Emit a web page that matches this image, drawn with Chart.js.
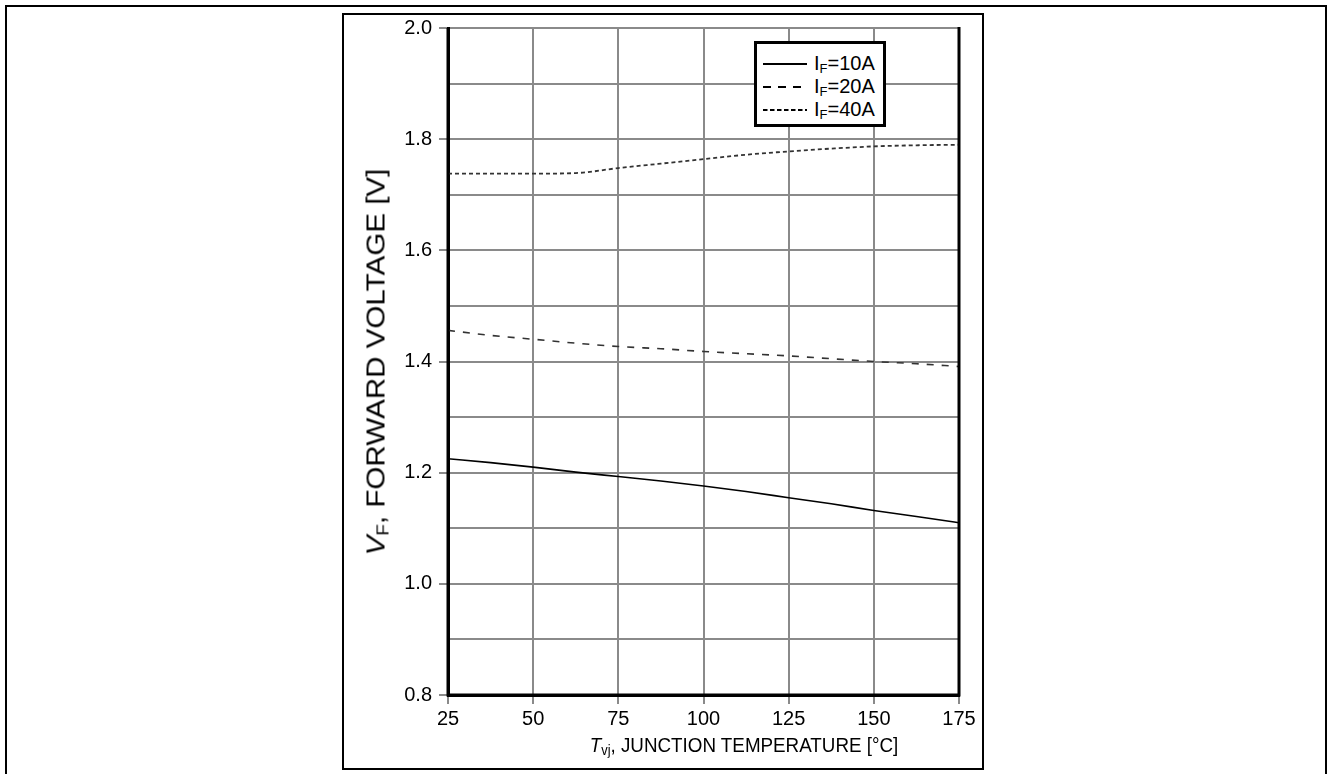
<!DOCTYPE html>
<html>
<head>
<meta charset="utf-8">
<script src="https://cdn.jsdelivr.net/npm/chart.js@4.4.1/dist/chart.umd.min.js"></script>
<style>
    html, body { margin: 0; padding: 0; background: #fff; }
    body { width: 1332px; height: 774px; position: relative; overflow: hidden; font-family: 'Liberation Sans', Arial, sans-serif; }
    .page-frame { position: absolute; left: 5px; top: 5px; width: 1322px; height: 800px; border: 2px solid #000; box-sizing: border-box; }
    .figure-frame { position: absolute; left: 342px; top: 13px; width: 642px; height: 757px; border: 2px solid #000; box-sizing: border-box; }
    #vfChart { position: absolute; left: 0; top: 0; }
    .axis-title { position: absolute; color: #000; white-space: nowrap; line-height: 1; }
    .x-title { font-size: 20.5px; left: 744px; top: 745px; transform: translate(-50%, -50%); }
    .x-title sub { font-size: 14px; vertical-align: -3px; line-height: 0; }
    .y-title { font-size: 25px; left: 376px; top: 362px; transform: translate(-50%, -50%) rotate(-90deg); }
    .y-title sub { font-size: 16px; vertical-align: -4px; line-height: 0; }
    .legend-box { position: absolute; left: 754px; top: 41px; width: 132px; height: 86px; border: 3px solid #000; box-sizing: border-box; background: #fff; }
    .legend-row { position: absolute; left: 6px; height: 23px; display: flex; align-items: center; font-size: 20px; color: #000; }
    .legend-row svg { width: 44px; height: 6px; margin-right: 7px; }
    .legend-row sub { font-size: 13px; vertical-align: -3px; line-height: 0; }
</style>
</head>
<body>
<div class="page-frame"></div>
<div class="figure-frame"></div>
<canvas id="vfChart" width="1332" height="774"></canvas>
<div class="axis-title x-title" id="xTitle"><i>T</i><sub>vj</sub>, JUNCTION TEMPERATURE [°C]</div>
<div class="axis-title y-title" id="yTitle"><i>V</i><sub>F</sub>, FORWARD VOLTAGE [V]</div>
<div class="legend-box" id="legendBox"></div>
<script>
    // junction temperature samples [°C]
    const temperatures = [25, 37.5, 50, 62.5, 75, 87.5, 100, 112.5, 125, 137.5, 150, 162.5, 175];
    // forward voltage [V]
    const vf10A = [1.225, 1.218, 1.210, 1.201, 1.193, 1.185, 1.176, 1.166, 1.155, 1.144, 1.132, 1.121, 1.110];
    const vf20A = [1.456, 1.447, 1.440, 1.433, 1.427, 1.423, 1.418, 1.414, 1.410, 1.405, 1.400, 1.396, 1.391];
    const vf40A = [1.738, 1.738, 1.738, 1.739, 1.748, 1.756, 1.764, 1.772, 1.778, 1.783, 1.787, 1.789, 1.790];

    const seriesNames = ['10A', '20A', '40A'];
    const xTickLabels = ['25', '50', '75', '100', '125', '150', '175'];
    const yTickLabels = ['0.8', '1.0', '1.2', '1.4', '1.6', '1.8', '2.0'];

    const gridColor = '#8a8a8a';
    const tickFont = { family: "'Liberation Sans', Arial, sans-serif", size: 20 };
    const lineStyles = [
        { color: '#000', width: 1.6, dash: [] },
        { color: '#333', width: 1.6, dash: [7, 8] },
        { color: '#333', width: 1.8, dash: [4, 3] }
    ];

    // titles in the original are squeezed/stretched along their length
    function fitTitle(id, length, rotate) {
        const el = document.getElementById(id);
        const k = length / el.offsetWidth;
        el.style.transform = 'translate(-50%, -50%)' + (rotate ? ' rotate(-90deg)' : '') + ' scaleX(' + k.toFixed(3) + ')';
    }
    fitTitle('yTitle', 387, true);
    fitTitle('xTitle', 308, false);

    function toPoints(values) {
        return temperatures.map(function (t, i) {
            return { x: t, y: values[i] };
        });
    }

    const seriesValues = [vf10A, vf20A, vf40A];
    const datasets = seriesValues.map(function (values, i) {
        return {
            label: 'IF=' + seriesNames[i],
            data: toPoints(values),
            borderColor: lineStyles[i].color,
            borderWidth: lineStyles[i].width,
            borderDash: lineStyles[i].dash,
            pointRadius: 0,
            tension: 0.4,
            cubicInterpolationMode: 'monotone',
            fill: false
        };
    });

    // legend with subscripts, samples follow dataset styles
    const legendBox = document.getElementById('legendBox');
    seriesNames.forEach(function (name, i) {
        const row = document.createElement('div');
        row.className = 'legend-row';
        row.style.top = (8 + i * 23) + 'px';
        const st = lineStyles[i];
        row.innerHTML = '<svg viewBox="0 0 44 6"><line x1="0" y1="3" x2="44" y2="3" stroke="#000" stroke-width="2"' +
            (st.dash.length ? ' stroke-dasharray="' + (i === 1 ? '8,7' : '4.5,2.5') + '"' : '') + '/></svg>' +
            '<span>I<sub>F</sub>=' + name + '</span>';
        legendBox.appendChild(row);
    });

    const frameEdges = {
        id: 'frameEdges',
        afterDatasetsDraw: function (chart) {
            const a = chart.chartArea;
            const ctx = chart.ctx;
            ctx.save();
            ctx.strokeStyle = '#000';
            ctx.lineWidth = 3;
            ctx.beginPath();
            ctx.moveTo(a.left, a.top);
            ctx.lineTo(a.left, a.bottom);
            ctx.lineTo(a.right, a.bottom);
            ctx.lineTo(a.right, a.top - 1);
            ctx.stroke();
            ctx.restore();
        }
    };

    new Chart(document.getElementById('vfChart'), {
        type: 'line',
        data: { datasets: datasets },
        options: {
            responsive: false,
            animation: false,
            layout: { padding: { left: 342, top: 28, right: 373, bottom: 19 } },
            plugins: {
                legend: { display: false },
                tooltip: { enabled: false }
            },
            scales: {
                x: {
                    type: 'linear',
                    min: 25,
                    max: 175,
                    afterFit: function (scale) { scale.height = 60; },
                    ticks: {
                        stepSize: 25,
                        padding: 3,
                        color: '#000',
                        font: tickFont,
                        maxRotation: 0,
                        callback: function (value) {
                            const s = String(value);
                            return xTickLabels.includes(s) ? s : '';
                        }
                    },
                    grid: { color: gridColor, lineWidth: 2, tickLength: 9, tickColor: gridColor },
                    border: { display: true, color: '#000', width: 3 }
                },
                y: {
                    min: 0.8,
                    max: 2.0,
                    afterFit: function (scale) { scale.width = 106; },
                    ticks: {
                        stepSize: 0.1,
                        padding: 7,
                        color: '#000',
                        font: tickFont,
                        callback: function (value) {
                            const s = Number(value).toFixed(1);
                            return yTickLabels.includes(s) ? s : '';
                        }
                    },
                    grid: {
                        color: gridColor,
                        lineWidth: 2,
                        tickLength: 9,
                        tickColor: function (ctx) {
                            const s = Number(ctx.tick.value).toFixed(1);
                            return yTickLabels.includes(s) ? gridColor : 'rgba(0,0,0,0)';
                        }
                    },
                    border: { display: true, color: '#000', width: 3 }
                }
            }
        },
        plugins: [frameEdges]
    });
</script>
</body>
</html>
